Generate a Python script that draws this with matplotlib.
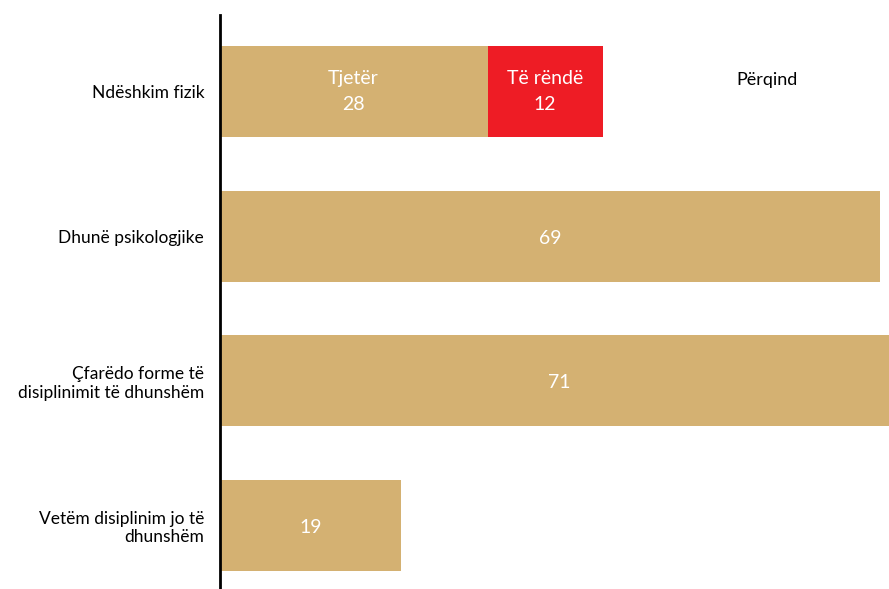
import matplotlib
matplotlib.use("Agg")
import matplotlib.pyplot as plt

categories = ["Ndëshkim fizik", "Dhunë psikologjike",
              "Çfarëdo forme të\ndisiplinimit të dhunshëm",
              "Vetëm disiplinim jo të\ndhunshëm"]
main_values = [28, 69, 71, 19]
severe_values = [12, 0, 0, 0]
main_color = "#D4B172"
severe_color = "#EE1C25"

plt.rcParams['font.family'] = ['Lato', 'DejaVu Sans']

fig = plt.figure(figsize=(8.89, 5.89), dpi=100)
ax = fig.add_axes([219.5 / 889, 0, 1 - 219.5 / 889, 1 - 15 / 589])

ypos = list(range(len(categories)))
ax.barh(ypos, main_values, height=0.63, color=main_color, left=0)
ax.barh([0], severe_values[:1], height=0.63, color=severe_color, left=main_values[0])

ax.set_ylim(3.44, -0.53)
ax.set_xlim(0, 69.9)

for y, v in zip(ypos, main_values):
    if y == 0:
        ax.text(v / 2, y, f"Tjetër\n{v}", ha="center", va="center", color="white",
                fontsize=14, linespacing=1.65)
    else:
        ax.text(v / 2, y + 0.015, f"{v}", ha="center", va="center", color="white", fontsize=14)
ax.text(main_values[0] + severe_values[0] / 2, 0, f"Të rëndë\n{severe_values[0]}",
        ha="center", va="center", color="white", fontsize=14, linespacing=1.65)
ax.text(57.2, 0 - 0.08, "Përqind", ha="center", va="center", color="black", fontsize=13)

ax.set_yticks(ypos)
ax.set_yticklabels(categories, fontsize=12.5, ha="right", linespacing=1.2)
ax.tick_params(axis="y", length=0, pad=11)
ax.set_xticks([])
for s in ["top", "right", "bottom"]:
    ax.spines[s].set_visible(False)
ax.spines["left"].set_linewidth(2)
ax.spines["left"].set_color("black")

fig.savefig("out.png", dpi=100)
